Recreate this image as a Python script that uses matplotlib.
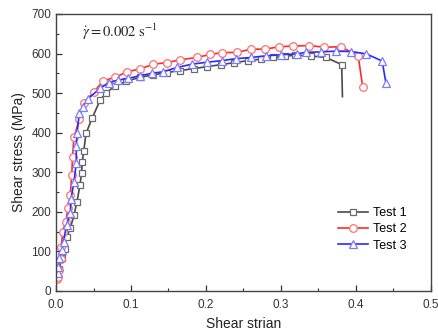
import matplotlib
matplotlib.use("Agg")
import matplotlib.pyplot as plt
from matplotlib.ticker import MultipleLocator

# ---- data ----
strain_1 = [0.004, 0.008, 0.012, 0.014, 0.019, 0.024, 0.028, 0.032, 0.034, 0.035, 0.037,
            0.040, 0.048, 0.059, 0.067, 0.079, 0.094, 0.112, 0.130, 0.148, 0.166, 0.184,
            0.202, 0.220, 0.238, 0.256, 0.274, 0.290, 0.305, 0.319, 0.340, 0.360, 0.381, 0.382]
stress_1 = [55, 84, 106, 137, 158, 192, 226, 268, 297, 325, 354,
            398, 436, 483, 501, 518, 530, 540, 546, 552, 557, 562,
            567, 572, 577, 582, 586, 590, 593, 596, 594, 590, 572, 491]

strain_2 = [0.001, 0.002, 0.004, 0.006, 0.007, 0.009, 0.013, 0.016, 0.019, 0.021, 0.022,
            0.024, 0.031, 0.037, 0.050, 0.063, 0.079, 0.095, 0.112, 0.130, 0.148, 0.165,
            0.188, 0.206, 0.221, 0.242, 0.260, 0.279, 0.297, 0.316, 0.338, 0.358, 0.380,
            0.403, 0.409]
stress_2 = [30, 36, 53, 80, 110, 150, 175, 209, 243, 293, 339,
            388, 434, 474, 502, 531, 540, 554, 561, 573, 577, 584,
            590, 598, 602, 603, 611, 611, 617, 619, 620, 616, 617,
            594, 516]

strain_3 = [0.002, 0.003, 0.004, 0.008, 0.010, 0.014, 0.019, 0.020, 0.024, 0.027, 0.027,
            0.028, 0.031, 0.036, 0.042, 0.059, 0.070, 0.083, 0.096, 0.112, 0.128, 0.143,
            0.162, 0.181, 0.201, 0.221, 0.240, 0.260, 0.280, 0.300, 0.321, 0.333, 0.353,
            0.373, 0.394, 0.414, 0.435, 0.440]
stress_3 = [45, 61, 83, 104, 125, 167, 196, 232, 276, 323, 367,
            398, 449, 466, 485, 512, 526, 533, 537, 544, 550, 554,
            565, 573, 578, 582, 587, 590, 594, 597, 599, 603, 604,
            606, 605, 599, 581, 525]

labels = ["Test 1", "Test 2", "Test 3"]

fig = plt.figure(figsize=(4.39, 3.36), dpi=100)
ax = fig.add_axes([0.1276, 0.134, 0.854, 0.8245])

font = "Liberation Sans"

ax.plot(strain_1, stress_1, color="#4a4a4a", lw=1.2, marker="s", ms=5,
        mfc="white", mec="#6a6a6a", mew=0.9, markevery=list(range(len(strain_1) - 1)),
        label=labels[0])
ax.plot(strain_2, stress_2, color="#ff2a2a", lw=1.2, marker="o", ms=5.5,
        mfc="white", mec="#ff7070", mew=0.9, label=labels[1])
ax.plot(strain_3, stress_3, color="#2a2aff", lw=1.2, marker="^", ms=6,
        mfc="white", mec="#7a7aff", mew=0.9, label=labels[2])

ax.set_xlim(0, 0.5)
ax.set_ylim(0, 700)
ax.xaxis.set_major_locator(MultipleLocator(0.1))
ax.xaxis.set_minor_locator(MultipleLocator(0.05))
ax.yaxis.set_major_locator(MultipleLocator(100))
ax.yaxis.set_minor_locator(MultipleLocator(50))
ax.tick_params(which="both", direction="in", top=False, right=False, colors="#333333")
ax.tick_params(which="major", length=4, width=0.9, labelsize=8.5)
ax.tick_params(axis="x", which="major", pad=6)
ax.tick_params(which="minor", length=2.5, width=0.8)
for lab in ax.get_xticklabels() + ax.get_yticklabels():
    lab.set_fontfamily(font)
for s in ax.spines.values():
    s.set_color("#444444")
    s.set_linewidth(1.0)

ax.set_xlabel("Shear strian", fontsize=10, family=font, color="#222222", labelpad=4)
ax.set_ylabel("Shear stress (MPa)", fontsize=10, family=font, color="#222222", labelpad=4)

ax.text(0.07, 0.915, r"$\dot{\gamma} = 0.002\ \mathrm{s}^{-1}$", transform=ax.transAxes,
        fontsize=10.5, math_fontfamily="stix", color="#222222")

leg = ax.legend(loc="center left", bbox_to_anchor=(0.74, 0.222), frameon=False,
                prop={"family": font, "size": 9}, handlelength=2.4, handletextpad=0.4,
                labelspacing=0.35, borderaxespad=0)

fig.savefig("out.png", dpi=100)
